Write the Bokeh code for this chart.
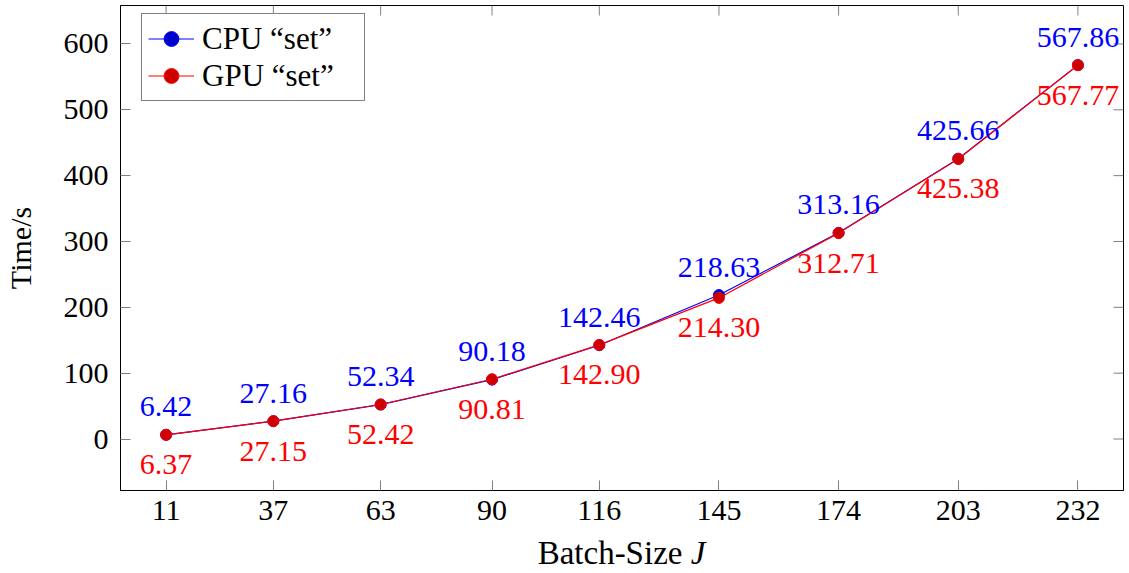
import math
from bokeh.plotting import figure
from bokeh.models import ColumnDataSource, Range1d, FixedTicker, Div
from bokeh.layouts import column
from bokeh.core.properties import value
from bokeh.embed import file_html
from bokeh.resources import INLINE

# ---- data ----
batch_sizes = [11, 37, 63, 90, 116, 145, 174, 203, 232]
cpu_set = [6.42, 27.16, 52.34, 90.18, 142.46, 218.63, 313.16, 425.66, 567.86]
gpu_set = [6.37, 27.15, 52.42, 90.81, 142.90, 214.30, 312.71, 425.38, 567.77]
y_ticks = [0, 100, 200, 300, 400, 500, 600]
series_names = ["CPU \u201cset\u201d", "GPU \u201cset\u201d"]
x_title = "Batch-Size"
x_title_var = "J"
y_title = "Time/s"

FONT = "Liberation Serif"
FS = "30px"
BLUE, BLUE_MARK = "#0000ff", "#0000cc"
RED, RED_MARK = "#ff0000", "#cc0000"
TICK = "#808080"

src = ColumnDataSource(dict(
    x=batch_sizes,
    cpu=cpu_set,
    gpu=gpu_set,
    cpu_txt=["%.2f" % v for v in cpu_set],
    gpu_txt=["%.2f" % v for v in gpu_set],
))

span = batch_sizes[-1] - batch_sizes[0]
x_range = Range1d(batch_sizes[0] - 0.05 * span, batch_sizes[-1] + 0.05 * span)
y_range = Range1d(-78.2, 658.4)

p = figure(width=1129, height=536, x_range=x_range, y_range=y_range,
           output_backend="svg", toolbar_location=None,
           min_border_left=120, min_border_right=6,
           min_border_top=5, min_border_bottom=46)
p.grid.visible = False
p.outline_line_color = "black"
p.outline_line_width = 1
p.background_fill_color = "white"
p.border_fill_color = "white"

xt = FixedTicker(ticks=batch_sizes, minor_ticks=[])
yt = FixedTicker(ticks=y_ticks, minor_ticks=[])

for ax, tk in ((p.xaxis[0], xt), (p.yaxis[0], yt)):
    ax.ticker = tk
    ax.major_tick_in = 10
    ax.major_tick_out = 0
    ax.major_tick_line_color = TICK
    ax.major_tick_line_width = 1
    ax.minor_tick_line_color = None
    ax.axis_line_color = "black"
    ax.major_label_text_font = FONT
    ax.major_label_text_font_size = FS
    ax.major_label_text_color = "black"
    ax.axis_label_text_font = FONT
    ax.axis_label_text_font_size = FS
    ax.axis_label_text_font_style = "normal"
    ax.axis_label_text_color = "black"

p.xaxis[0].major_label_standoff = 10
p.yaxis[0].major_label_standoff = 12
p.yaxis[0].axis_label = y_title
p.yaxis[0].axis_label_standoff = 24

# mirrored ticks on the right and top edges (10 px inward)
p.ray(x=[x_range.end] * len(y_ticks), y=y_ticks, length=10, length_units="screen",
      angle=math.pi, line_color=TICK, line_width=1)
p.ray(x=batch_sizes, y=[y_range.end] * len(batch_sizes), length=10, length_units="screen",
      angle=-math.pi / 2, line_color=TICK, line_width=1)

# lines and markers
p.line("x", "cpu", source=src, line_color=BLUE, line_width=1.2, legend_label=series_names[0])
p.scatter("x", "cpu", source=src, marker="circle", size=11, fill_color=BLUE_MARK,
          line_color=BLUE, line_width=1, legend_label=series_names[0])
p.line("x", "gpu", source=src, line_color=RED, line_width=1.2, legend_label=series_names[1])
p.scatter("x", "gpu", source=src, marker="circle", size=11, fill_color=RED_MARK,
          line_color=RED, line_width=1, legend_label=series_names[1])

# value labels
p.text("x", "cpu", text="cpu_txt", source=src, text_font=value(FONT), text_font_size=FS,
       text_color=BLUE, text_align="center", text_baseline="alphabetic", y_offset=-28)
p.text("x", "gpu", text="gpu_txt", source=src, text_font=value(FONT), text_font_size=FS,
       text_color=RED, text_align="center", text_baseline="alphabetic", y_offset=30)

# legend
lg = p.legend[0]
lg.location = (21, 389)
lg.border_line_color = "black"
lg.border_line_width = 1
lg.background_fill_color = "white"
lg.background_fill_alpha = 1
lg.padding = 6
lg.spacing = 0
lg.margin = 0
lg.label_height = 37
lg.glyph_height = 37
lg.glyph_width = 46
lg.label_standoff = 8
lg.label_width = 156
lg.label_text_font = FONT
lg.label_text_font_size = "31px"
lg.label_text_color = "black"

# x axis title with italic variable
xlab = Div(text="%s <i>%s</i>" % (x_title, x_title_var), width=1003, height=37,
           margin=(0, 0, 0, 120),
           styles={"font-family": "'Liberation Serif'", "font-size": "33px",
                   "line-height": "34px", "text-align": "center", "color": "black"})

layout = column(p, xlab, spacing=0)
open("out.html", "w").write(file_html(layout, INLINE))
